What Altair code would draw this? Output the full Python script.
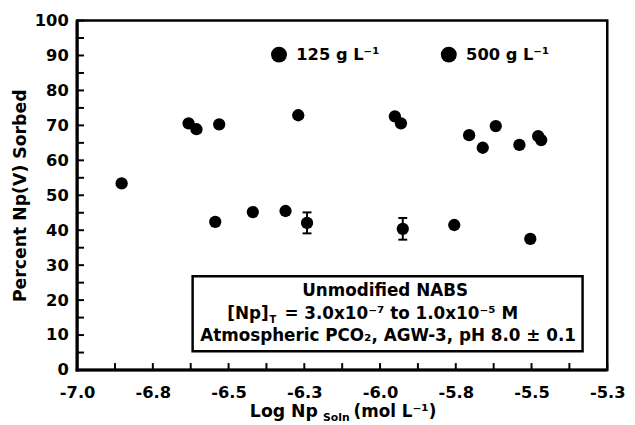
import altair as alt
import pandas as pd

FONT = "DejaVu Sans"

# ---- data ----
series_names = ["125 g L\u207b\u00b9", "500 g L\u207b\u00b9"]

x125 = [-6.853, -6.544, -6.420, -6.312, -6.241, -5.925, -5.755, -5.504]
y125 = [53.4, 42.4, 45.2, 45.5, 42.1, 40.4, 41.5, 37.5]

x500 = [-6.632, -6.606, -6.531, -6.270, -5.951, -5.931, -5.706, -5.661,
        -5.618, -5.540, -5.478, -5.468]
y500 = [70.6, 68.9, 70.3, 72.9, 72.6, 70.6, 67.2, 63.6, 69.8, 64.4, 66.9, 65.8]

err_x = [-6.241, -5.925]
err_y = [42.1, 40.4]
err_d = [3.0, 3.1]

x_major = [-7.0, -6.75, -6.5, -6.25, -6.0, -5.75, -5.5, -5.25]
x_minor = [-7.0, -6.875, -6.75, -6.625, -6.5, -6.375, -6.25, -6.125, -6.0,
           -5.875, -5.75, -5.625, -5.5, -5.375, -5.25]
y_major = [0, 10, 20, 30, 40, 50, 60, 70, 80, 90, 100]
y_minor = [0, 5, 10, 15, 20, 25, 30, 35, 40, 45, 50, 55, 60, 65, 70, 75, 80,
           85, 90, 95, 100]

W, H = 537, 354

df = pd.DataFrame({
    "x": x125 + x500,
    "y": y125 + y500,
    "series": [series_names[0]] * len(x125) + [series_names[1]] * len(x500),
})
err = pd.DataFrame({
    "x": err_x,
    "lo": [y - d for y, d in zip(err_y, err_d)],
    "hi": [y + d for y, d in zip(err_y, err_d)],
})
caps = pd.DataFrame({
    "x": err_x + err_x,
    "y": [y - d for y, d in zip(err_y, err_d)] + [y + d for y, d in zip(err_y, err_d)],
})
xt = pd.DataFrame({"x": x_minor})
yt = pd.DataFrame({"y": y_minor})

xs = alt.Scale(domain=[-7.0, -5.25], nice=False, zero=False)
ys = alt.Scale(domain=[0, 100], nice=False, zero=False)

lab = dict(labelFont=FONT, labelFontSize=16.5, labelFontWeight="bold", labelColor="black")

xaxis = alt.Axis(
    values=x_major, ticks=False, grid=False, title=None, domain=False,
    labelPadding=15, labelFlush=False,
    labelExpr="(datum.value < 0 ? '-' : '') + format(abs(datum.value), '.1f')",
    **lab)
yaxis = alt.Axis(
    values=y_major, ticks=False, grid=False, domain=False,
    labelPadding=9, labelFlush=False,
    title="Percent Np(V) Sorbed", titleX=-57, titleY=177, titleAngle=270,
    titleAlign="center", titleBaseline="middle", titleFont=FONT,
    titleFontSize=17.5, titleFontWeight="bold", titleColor="black", **lab)

one = pd.DataFrame({"_": [0]})

frame = alt.Chart(one).mark_rect(
    fill="transparent", stroke="black", strokeWidth=2.5).encode(
    x=alt.value(0), x2=alt.value(W), y=alt.value(0), y2=alt.value(H))
left_line = alt.Chart(one).mark_rule(strokeWidth=3.2, color="black").encode(
    x=alt.value(0), y=alt.value(0), y2=alt.value(H + 1.5))
bottom_line = alt.Chart(one).mark_rule(strokeWidth=3.2, color="black").encode(
    x=alt.value(-1.5), x2=alt.value(W), y=alt.value(H))

xticks = alt.Chart(xt).mark_tick(orient="vertical", size=7, thickness=2,
                                 color="black", opacity=1).encode(
    x=alt.X("x:Q", scale=xs, axis=xaxis), y=alt.value(H - 3.5))
yticks = alt.Chart(yt).mark_tick(orient="horizontal", size=7, thickness=2,
                                 color="black", opacity=1).encode(
    y=alt.Y("y:Q", scale=ys, axis=yaxis), x=alt.value(3.5))

points = alt.Chart(df).mark_circle(size=155, opacity=1).encode(
    x=alt.X("x:Q", scale=xs, axis=xaxis),
    y=alt.Y("y:Q", scale=ys, axis=yaxis),
    color=alt.Color("series:N", scale=alt.Scale(domain=series_names, range=["black", "black"]),
                    legend=alt.Legend(orient="none", legendX=196, legendY=26,
                                      direction="horizontal", title=None,
                                      symbolType="circle", symbolSize=260,
                                      symbolOpacity=1, symbolStrokeWidth=0,
                                      labelOffset=9, columnPadding=61, padding=0,
                                      labelFont=FONT, labelFontSize=16.5,
                                      labelFontWeight="bold", labelColor="black")),
)

bars = alt.Chart(err).mark_rule(strokeWidth=2, color="black").encode(
    x=alt.X("x:Q", scale=xs, axis=xaxis),
    y=alt.Y("lo:Q", scale=ys, axis=yaxis),
    y2="hi:Q",
)

capmarks = alt.Chart(caps).mark_tick(orient="horizontal", size=9, thickness=2,
                                     color="black", opacity=1).encode(
    x=alt.X("x:Q", scale=xs, axis=xaxis),
    y=alt.Y("y:Q", scale=ys, axis=yaxis),
)


def txt(text, x, y, size=17, align="left"):
    return alt.Chart(one).mark_text(
        text=text, align=align, baseline="alphabetic", font=FONT, fontSize=size,
        fontWeight="bold", color="black").encode(x=alt.value(x), y=alt.value(y))


box = alt.Chart(one).mark_rect(fill="white", stroke="black", strokeWidth=2.5).encode(
    x=alt.value(117), x2=alt.value(512), y=alt.value(259), y2=alt.value(335))

annots = [
    box,
    txt("Unmodified NABS", 312, 279, align="center"),
    txt("[Np]", 194, 302, align="right"),
    txt("T", 195, 306, size=10),
    txt("= 3.0x10\u207b\u2077 to 1.0x10\u207b\u2075 M", 210, 302),
    txt("Atmospheric PCO\u2082, AGW-3, pH 8.0 \u00b1 0.1", 315, 325, align="center"),
    txt("Log Np", 175, 402, size=17.5),
    txt("Soln", 249, 406, size=11),
    txt("(mol L\u207b\u00b9)", 280, 402, size=17),
]

chart = alt.layer(frame, bars, capmarks, points, *annots,
                  left_line, bottom_line, xticks, yticks).properties(
    width=W, height=H,
    padding={"left": 70, "top": 10, "right": 20, "bottom": 53},
    autosize=alt.AutoSizeParams(type="none"),
).configure_view(stroke="black", strokeWidth=2.5).configure(font=FONT)

chart.save("out.html", embed_options={"renderer": "svg", "actions": False})
